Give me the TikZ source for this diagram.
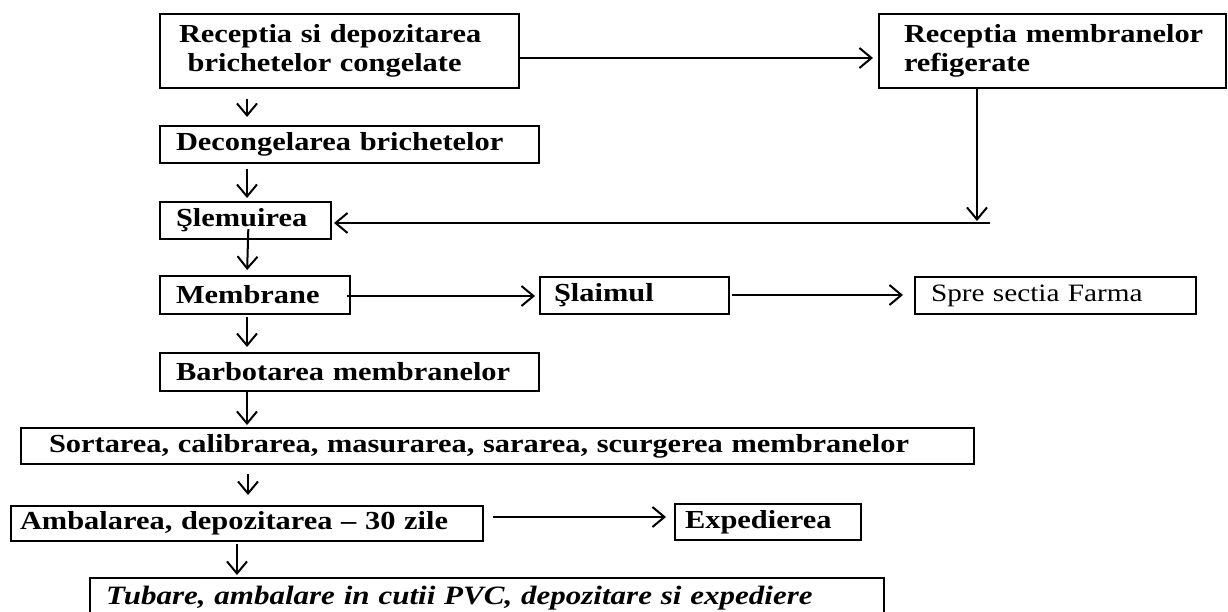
\documentclass[tikz,border=0pt]{standalone}
\usepackage{fontspec}
\newfontfamily\gara[FakeStretch=1.17]{Liberation Serif}
\usetikzlibrary{arrows.meta}

\begin{document}
\begin{tikzpicture}[x=1pt,y=-1pt,
  stepbox/.style={draw=black, line width=2pt, rectangle, anchor=north west, align=left, inner ysep=0pt, font=\gara\bfseries\fontsize{26}{29}\selectfont},
  arr/.style={-{Straight Barb[length=12pt,width=20pt]}, line width=2pt}]
\useasboundingbox (0,0) rectangle (1228,612);

% boxes of the flow
\node[stepbox, inner xsep=19pt, text width=321pt, minimum height=74pt] (recBrich) at (159,13) {\mbox{Receptia si depozitarea}\\\mbox{ brichetelor congelate}};
\node[stepbox, inner xsep=25pt, text width=297pt, minimum height=74pt] (recMemb) at (878,13) {\mbox{Receptia membranelor}\\\mbox{refigerate}};
\node[stepbox, inner xsep=16pt, text width=347pt, minimum height=37pt] (decong) at (159,125) {\mbox{Decongelarea brichetelor}};
\node[stepbox, inner xsep=16pt, text width=139pt, minimum height=37pt] (slem) at (159,201) {\mbox{Şlemuirea}};
\node[stepbox, inner xsep=16pt, text width=158pt, minimum height=38pt] (memb) at (159,275) {\mbox{Membrane}};
\node[stepbox, inner xsep=14pt, text width=161pt, minimum height=37pt] (slaim) at (539,276) {\mbox{Şlaimul}};
\node[stepbox, inner xsep=16pt, text width=249pt, minimum height=37pt, font=\gara\fontsize{25}{29}\selectfont] (farma) at (914,276) {\mbox{Spre sectia Farma}};
\node[stepbox, inner xsep=16pt, text width=347pt, minimum height=38pt] (barbot) at (159,352) {\mbox{Barbotarea membranelor}};
\node[stepbox, inner xsep=28pt, text width=897pt, minimum height=36pt] (sort) at (20,427) {\mbox{Sortarea, calibrarea, masurarea, sararea, scurgerea membranelor}};
\node[stepbox, inner xsep=9pt, text width=454pt, minimum height=35pt] (ambal) at (10,505) {\mbox{Ambalarea, depozitarea \textendash{} 30 zile}};
\node[stepbox, inner xsep=10pt, text width=166pt, minimum height=36pt] (exped) at (674,503) {\mbox{Expedierea}};
\node[stepbox, inner xsep=16pt, text width=762pt, minimum height=40pt, font=\gara\bfseries\itshape\fontsize{26.5}{29}\selectfont] (tubare) at (89,577) {\mbox{Tubare, ambalare in cutii PVC, depozitare si expediere}};

\coordinate (feedTip) at (977,221);
\coordinate (feedEnd) at (990,223);

% arrows down the main line
\draw[arr, shorten <=10pt, shorten >=8pt] ([xshift=88pt]recBrich.south west) -- ([xshift=88pt]decong.north west);
\draw[arr, shorten <=5pt, shorten >=3pt] ([xshift=88pt]decong.south west) -- ([xshift=88pt]slem.north west);
\draw[arr, shorten <=-11pt, shorten >=5pt] ([xshift=89pt]slem.south west) -- ([xshift=88pt]memb.north west);
\draw[arr, shorten <=2pt, shorten >=5pt] ([xshift=88pt]memb.south west) -- ([xshift=88pt]barbot.north west);
\draw[arr, shorten >=2pt] ([xshift=88pt]barbot.south west) -- ([xshift=227pt]sort.north west);
\draw[arr, shorten <=9pt, shorten >=10pt] ([xshift=228pt]sort.south west) -- ([xshift=238pt]ambal.north west);
\draw[arr, shorten <=2pt, shorten >=2pt] ([xshift=227pt]ambal.south west) -- ([xshift=148pt]tubare.north west);

% arrows to the side
\draw[arr, shorten >=5pt] (recBrich.east |- 0,58) -- (recMemb.west |- 0,58);
\draw[arr] ([xshift=99pt]recMemb.south west) -- (feedTip);
\draw[arr, shorten >=2pt] (feedEnd) -- (slem.east |- feedEnd);
\draw[arr, shorten <=-4pt, shorten >=4pt] (memb.east |- 0,296) -- (slaim.west |- 0,296);
\draw[arr, shorten <=2pt, shorten >=11pt] (slaim.east |- 0,295) -- (farma.west |- 0,295);
\draw[arr, shorten <=9pt, shorten >=8pt] (ambal.east |- 0,517) -- (exped.west |- 0,517);

\end{tikzpicture}
\end{document}
